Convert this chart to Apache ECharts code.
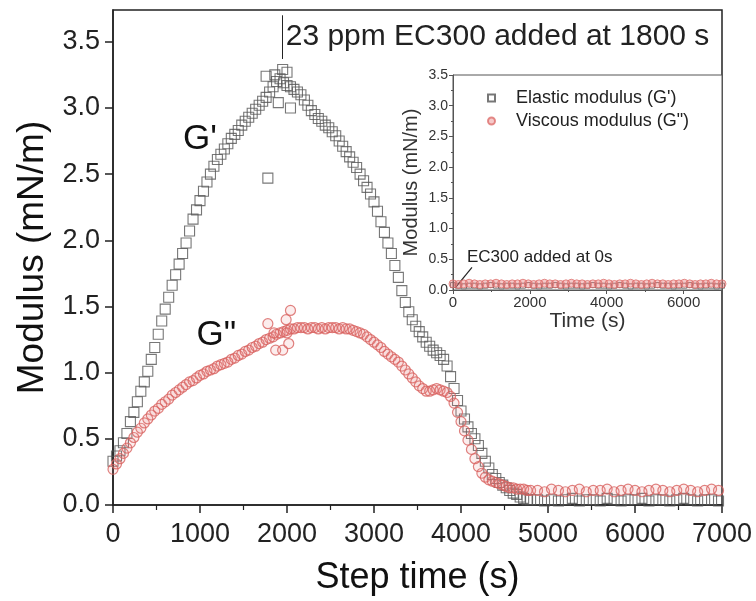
<!DOCTYPE html>
<html>
<head>
<meta charset="utf-8">
<script src="https://cdn.jsdelivr.net/npm/echarts@6/dist/echarts.min.js"></script>
<style>html,body{margin:0;padding:0;background:#fff}#c{width:756px;height:601px}</style>
</head>
<body>
<div id="c"></div>
<script>
// ---- main plot data (Step time, s) ----
const times = [
  0,40,80,120,160,200,240,280,320,360,
  400,440,480,520,560,600,640,680,720,760,
  800,840,880,920,960,1000,1040,1080,1120,1160,
  1200,1240,1280,1320,1360,1400,1440,1480,1520,1560,
  1600,1640,1680,1720,1760,1800,1840,1880,1920,1960,
  2000,2040,2080,2120,2160,2200,2240,2280,2320,2360,
  2400,2440,2480,2520,2560,2600,2640,2680,2720,2760,
  2800,2840,2880,2920,2960,3000,3040,3080,3120,3160,
  3200,3240,3280,3320,3360,3400,3440,3480,3520,3560,
  3600,3640,3680,3720,3760,3800,3840,3880,3920,3960,
  4000,4040,4080,4120,4160,4200,4240,4280,4320,4360,
  4400,4440,4480,4520,4560,4600,4640,4680,4720,4760,
  4800,
  4880,4960,5040,5120,5200,5280,5360,5440,5520,5600,
  5680,5760,5840,5920,6000,6080,6160,6240,6320,6400,
  6480,6560,6640,6720,6800,6880,6960
];
const elastic = [
  0.33,0.37,0.41,0.47,0.54,0.63,0.70,0.78,0.86,0.93,
  1.01,1.10,1.19,1.29,1.39,1.48,1.57,1.66,1.74,1.82,
  1.90,1.98,2.07,2.16,2.23,2.30,2.37,2.44,2.50,2.56,
  2.61,2.65,2.69,2.73,2.77,2.80,2.83,2.87,2.90,2.93,
  2.96,2.99,3.02,3.05,3.08,3.12,3.16,3.20,3.22,3.19,
  3.17,3.16,3.14,3.12,3.10,3.06,3.02,2.98,2.95,2.92,
  2.90,2.87,2.85,2.82,2.79,2.75,2.71,2.67,2.63,2.59,
  2.55,2.50,2.45,2.40,2.35,2.29,2.22,2.14,2.06,1.98,
  1.90,1.81,1.72,1.62,1.53,1.46,1.40,1.35,1.31,1.27,
  1.23,1.20,1.17,1.15,1.13,1.10,1.05,0.97,0.88,0.79,
  0.71,0.65,0.59,0.54,0.50,0.45,0.39,0.33,0.28,0.23,
  0.20,0.17,0.15,0.13,0.11,0.09,0.08,0.06,0.05,0.04,
  0.04,
  0.04,0.03,0.04,0.03,0.04,0.05,0.03,0.04,0.04,0.03,
  0.05,0.04,0.03,0.04,0.04,0.05,0.03,0.04,0.04,0.03,
  0.04,0.05,0.04,0.03,0.04,0.04,0.03
];
const viscous = [
  0.27,0.31,0.35,0.39,0.43,0.47,0.51,0.55,0.58,0.62,
  0.65,0.68,0.71,0.73,0.76,0.78,0.80,0.83,0.85,0.87,
  0.89,0.91,0.93,0.94,0.96,0.98,0.99,1.01,1.02,1.03,
  1.05,1.06,1.07,1.08,1.10,1.11,1.13,1.14,1.16,1.17,
  1.19,1.20,1.22,1.23,1.25,1.26,1.27,1.29,1.30,1.31,
  1.32,1.33,1.33,1.34,1.34,1.34,1.33,1.34,1.34,1.33,
  1.34,1.33,1.34,1.34,1.34,1.33,1.34,1.33,1.33,1.32,
  1.31,1.30,1.29,1.27,1.25,1.23,1.21,1.19,1.16,1.14,
  1.12,1.10,1.08,1.05,1.02,0.99,0.96,0.93,0.90,0.88,
  0.86,0.86,0.87,0.88,0.87,0.86,0.85,0.82,0.77,0.70,
  0.63,0.56,0.49,0.42,0.35,0.29,0.24,0.21,0.19,0.18,
  0.17,0.16,0.15,0.14,0.13,0.13,0.12,0.12,0.12,0.11,
  0.11,
  0.11,0.10,0.12,0.11,0.10,0.11,0.12,0.10,0.11,0.11,
  0.12,0.10,0.11,0.12,0.11,0.10,0.11,0.12,0.11,0.10,
  0.11,0.12,0.11,0.10,0.11,0.12,0.11
];
// scattered points around the EC300 addition
const elasticExtraT = [1760, 1780, 1860, 1900, 1950, 2000, 2040];
const elasticExtraV = [3.24, 2.47, 3.25, 3.04, 3.29, 3.27, 3.00];
const viscousExtraT = [1780, 1850, 1870, 1950, 1990, 2000, 2020, 2040];
const viscousExtraV = [1.37, 1.30, 1.17, 1.17, 1.40, 1.30, 1.22, 1.47];

// ---- inset data (Time, s) ----
const insetTimes = [
  0,140,280,420,560,700,840,980,1120,1260,
  1400,1540,1680,1820,1960,2100,2240,2380,2520,2660,
  2800,2940,3080,3220,3360,3500,3640,3780,3920,4060,
  4200,4340,4480,4620,4760,4900,5040,5180,5320,5460,
  5600,5740,5880,6020,6160,6300,6440,6580,6720,6860,
  7000
];
const insetElastic = [
  0.08,0.07,0.06,0.07,0.07,0.06,0.07,0.08,0.07,0.06,
  0.07,0.07,0.06,0.07,0.08,0.07,0.06,0.07,0.07,0.08,
  0.07,0.06,0.07,0.07,0.06,0.07,0.08,0.07,0.07,0.06,
  0.07,0.08,0.07,0.06,0.07,0.07,0.06,0.07,0.08,0.07,
  0.07,0.06,0.07,0.07,0.08,0.07,0.06,0.07,0.07,0.06,
  0.07
];
const insetViscous = [
  0.10,0.09,0.10,0.11,0.10,0.09,0.10,0.10,0.11,0.10,
  0.09,0.10,0.10,0.11,0.10,0.09,0.10,0.11,0.10,0.10,
  0.09,0.10,0.11,0.10,0.10,0.09,0.10,0.10,0.11,0.10,
  0.09,0.10,0.10,0.11,0.10,0.09,0.10,0.11,0.10,0.10,
  0.09,0.10,0.10,0.11,0.10,0.09,0.10,0.10,0.11,0.10,
  0.10
];

const mainXTicks = { min: 0, max: 7000, interval: 1000 };
const mainYTicks = { min: 0, max: 3.74, interval: 0.5 };
const insetXTicks = { min: 0, max: 7000, interval: 2000 };
const insetYTicks = { min: 0, max: 3.5, interval: 0.5 };

const nameG1 = "Elastic modulus (G')";
const nameG2 = 'Viscous modulus (G")';
const annMain = '23 ppm EC300 added at 1800 s';
const annInset = 'EC300 added at 0s';

// ---- build ----
const F = "'Liberation Sans', Arial, sans-serif";
const pairs = (t, v) => t.map((x, i) => [x, v[i]]);
const gpData = pairs(times, elastic).concat(pairs(elasticExtraT, elasticExtraV));
const gppData = pairs(times, viscous).concat(pairs(viscousExtraT, viscousExtraV));

const sqStyle = { color: 'rgba(0,0,0,0)', borderColor: '#555', borderWidth: 1.1 };
const ciStyle = { color: 'rgba(235,130,130,0.18)', borderColor: '#d8615f', borderWidth: 1.2 };
const plain = v => String(v);

const chart = echarts.init(document.getElementById('c'), null, { renderer: 'canvas' });
chart.setOption({
  animation: false,
  backgroundColor: '#fff',
  textStyle: { fontFamily: F },
  grid: [
    { left: 113, right: 34, top: 10, bottom: 96, show: true, borderColor: '#222', borderWidth: 1.5 },
    { left: 453, right: 34, top: 75, bottom: 311, show: true, borderColor: '#555', borderWidth: 1, backgroundColor: '#fff' }
  ],
  legend: {
    data: [nameG1, nameG2],
    orient: 'vertical', left: 482, top: 84,
    itemWidth: 7, itemHeight: 7, itemGap: 5,
    textStyle: { fontSize: 18, color: '#222', fontFamily: F, padding: [0, 0, 0, 16] }
  },
  xAxis: [
    {
      gridIndex: 0, type: 'value', ...mainXTicks,
      name: 'Step time (s)', nameLocation: 'middle', nameGap: 55,
      nameTextStyle: { fontSize: 36, color: '#111', fontFamily: F },
      axisLine: { lineStyle: { color: '#222', width: 1.5 } },
      axisTick: { show: true, length: 8, lineStyle: { color: '#222', width: 1.5 } },
      minorTick: { show: true, splitNumber: 2, length: 5, lineStyle: { color: '#222', width: 1.2 } },
      axisLabel: { fontSize: 27, color: '#222', margin: 16, fontFamily: F, formatter: plain },
      splitLine: { show: false }
    },
    {
      gridIndex: 1, type: 'value', ...insetXTicks,
      name: 'Time (s)', nameLocation: 'middle', nameGap: 20,
      nameTextStyle: { fontSize: 21, color: '#333', fontFamily: F },
      axisLine: { lineStyle: { color: '#555', width: 1 } },
      axisTick: { show: true, length: 4, lineStyle: { color: '#555' } },
      minorTick: { show: true, splitNumber: 2, length: 2, lineStyle: { color: '#555' } },
      axisLabel: { fontSize: 15, color: '#333', margin: 5, showMaxLabel: false, fontFamily: F, formatter: plain },
      splitLine: { show: false }
    }
  ],
  yAxis: [
    {
      gridIndex: 0, type: 'value', ...mainYTicks,
      name: 'Modulus (mN/m)', nameLocation: 'middle', nameGap: 56,
      nameTextStyle: { fontSize: 37, color: '#111', fontFamily: F },
      axisLine: { lineStyle: { color: '#222', width: 1.5 } },
      axisTick: { show: true, length: 8, lineStyle: { color: '#222', width: 1.5 } },
      axisLabel: { fontSize: 27, color: '#222', margin: 13, showMaxLabel: false, fontFamily: F,
        formatter: v => v.toFixed(1) },
      splitLine: { show: false }
    },
    {
      gridIndex: 1, type: 'value', ...insetYTicks,
      name: 'Modulus (mN/m)', nameLocation: 'middle', nameGap: 32,
      nameTextStyle: { fontSize: 20, color: '#333', fontFamily: F },
      axisLine: { lineStyle: { color: '#555', width: 1 } },
      axisTick: { show: true, length: 4, lineStyle: { color: '#555' } },
      minorTick: { show: true, splitNumber: 2, length: 2, lineStyle: { color: '#555' } },
      axisLabel: { fontSize: 14, color: '#333', margin: 5, fontFamily: F, formatter: v => v.toFixed(1) },
      splitLine: { show: false }
    }
  ],
  series: [
    {
      name: "G'", type: 'scatter', xAxisIndex: 0, yAxisIndex: 0,
      symbol: 'rect', symbolSize: 10, data: gpData, itemStyle: sqStyle, z: 2,
      markLine: {
        silent: true, symbol: ['none', 'arrow'], symbolSize: [0, 10], z: 6,
        lineStyle: { color: '#222', width: 1, type: 'solid' }, label: { show: false },
        data: [[{ coord: [1950, 3.70] }, { coord: [1950, 3.37] }]]
      },
      markPoint: {
        silent: true, symbol: 'circle', symbolSize: 0,
        data: [
          { coord: [1985, 3.54], label: { show: true, position: 'right', distance: 0, formatter: annMain, fontSize: 30, color: '#222', fontFamily: F } },
          { coord: [1000, 2.76], label: { show: true, position: 'inside', formatter: "G'", fontSize: 35, color: '#111', fontFamily: F } },
          { coord: [1188, 1.285], label: { show: true, position: 'inside', formatter: 'G"', fontSize: 35, color: '#111', fontFamily: F } }
        ]
      }
    },
    {
      name: "G''", type: 'scatter', xAxisIndex: 0, yAxisIndex: 0,
      symbol: 'circle', symbolSize: 10, data: gppData, itemStyle: ciStyle, z: 3
    },
    {
      name: nameG1, type: 'scatter', xAxisIndex: 1, yAxisIndex: 1,
      symbol: 'rect', symbolSize: 5, data: pairs(insetTimes, insetElastic),
      itemStyle: { color: 'rgba(0,0,0,0)', borderColor: '#555', borderWidth: 1 }, z: 4,
      markLine: {
        silent: true, symbol: ['none', 'arrow'], symbolSize: [0, 8],
        lineStyle: { color: '#222', width: 1.2, type: 'solid' }, label: { show: false },
        data: [[{ coord: [494, 0.37] }, { coord: [52, 0.03] }]]
      },
      markPoint: {
        silent: true, symbol: 'circle', symbolSize: 0,
        data: [
          { coord: [364, 0.54], label: { show: true, position: 'right', distance: 0, formatter: annInset, fontSize: 17, color: '#222', fontFamily: F } }
        ]
      }
    },
    {
      name: nameG2, type: 'scatter', xAxisIndex: 1, yAxisIndex: 1,
      symbol: 'circle', symbolSize: 8, data: pairs(insetTimes, insetViscous),
      itemStyle: { color: 'rgba(232,120,120,0.5)', borderColor: '#dd6f6d', borderWidth: 1 }, z: 5
    }
  ]
});
</script>
</body>
</html>
